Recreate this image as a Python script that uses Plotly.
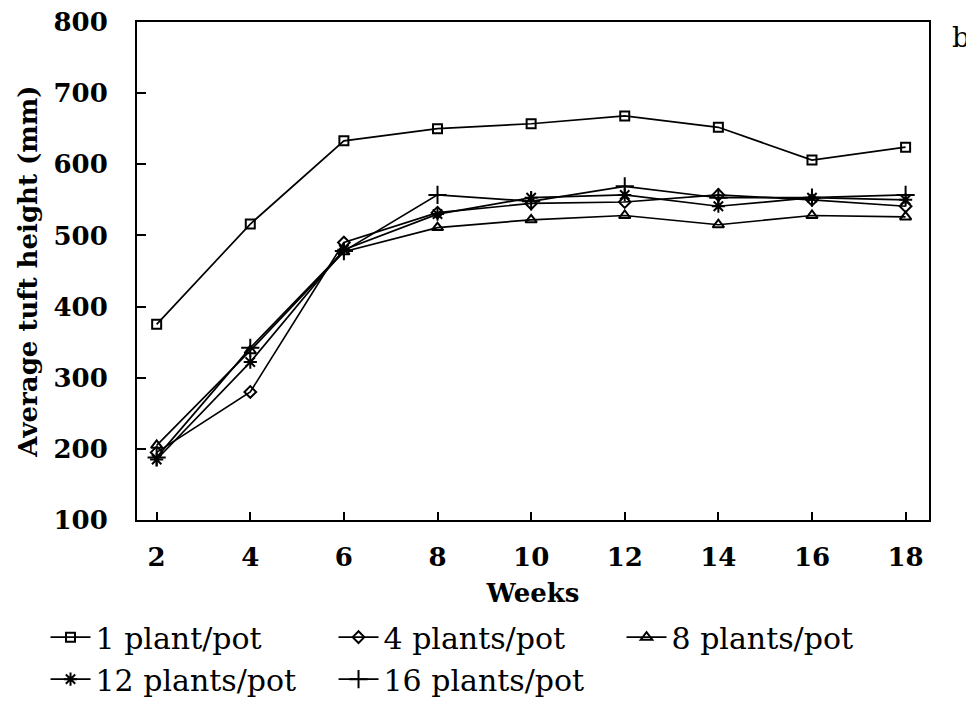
import plotly.graph_objects as go

weeks = [2, 4, 6, 8, 10, 12, 14, 16, 18]
plant1 = [375, 516, 633, 650, 657, 668, 652, 606, 624]
plants4 = [195, 280, 490, 532, 545, 547, 557, 550, 541]
plants8 = [205, 338, 477, 511, 522, 528, 515, 528, 526]
plants12 = [185, 322, 480, 530, 553, 557, 541, 553, 550]
plants16 = [188, 342, 478, 557, 548, 569, 553, 553, 557]

series_names = ["1 plant/pot", "4 plants/pot", "8 plants/pot",
                "12 plants/pot", "16 plants/pot"]
series_values = [plant1, plants4, plants8, plants12, plants16]
symbols = ["square-open", "diamond-open", "triangle-up-open",
           "asterisk-open", "cross-thin-open"]
sizes = [9, 9, 10, 11, 13]

y_ticks = [100, 200, 300, 400, 500, 600, 700, 800]
x_ticks = [2, 4, 6, 8, 10, 12, 14, 16, 18]

FONT = "DejaVu Serif"

fig = go.Figure()
for name, vals, sym, sz in zip(series_names, series_values, symbols, sizes):
    fig.add_trace(go.Scatter(
        x=weeks, y=vals, name=name, mode="lines+markers",
        line=dict(color="black", width=1.7),
        marker=dict(symbol=sym, size=sz, color="black",
                    line=dict(color="black", width=2)),
    ))

fig.update_layout(
    width=966, height=693,
    margin=dict(l=129, r=45, t=14, b=181, autoexpand=False),
    paper_bgcolor="white", plot_bgcolor="white",
    font=dict(family=FONT, color="black"),
    showlegend=True,
    legend=dict(
        orientation="h", x=-0.1155, y=-0.183, xanchor="left", yanchor="top",
        font=dict(family=FONT, size=30, color="black"),
        entrywidth=233, entrywidthmode="pixels",
        itemwidth=40, tracegroupgap=0,
        bgcolor="rgba(0,0,0,0)",
    ),
    annotations=[dict(
        text="b", xref="paper", yref="paper", x=1.026, y=0.968,
        xanchor="left", yanchor="middle", showarrow=False,
        font=dict(family=FONT, size=28, color="black"),
    )],
)

fig.update_xaxes(
    range=[1.58, 18.5], tickmode="array", tickvals=x_ticks,
    ticktext=[str(v) for v in x_ticks],
    ticks="inside", ticklen=8, tickwidth=2, tickcolor="black",
    showline=True, linecolor="black", linewidth=2, mirror=True,
    showgrid=False, zeroline=False, ticklabeloverflow="allow",
    tickfont=dict(family=FONT, size=26, color="black", weight="bold"),
    ticklabelstandoff=13,
    title=dict(text="Weeks", standoff=13,
               font=dict(family=FONT, size=26, color="black", weight="bold")),
)
fig.update_yaxes(
    range=[100, 800], tickmode="array", tickvals=y_ticks,
    ticktext=[str(v) for v in y_ticks],
    ticks="inside", ticklen=9, tickwidth=2, tickcolor="black",
    showline=True, linecolor="black", linewidth=2, mirror=True,
    showgrid=False, zeroline=False, ticklabeloverflow="allow",
    tickfont=dict(family=FONT, size=26, color="black", weight="bold"),
    ticklabelstandoff=22,
    title=dict(text="Average tuft height (mm)", standoff=8,
               font=dict(family=FONT, size=26, color="black", weight="bold")),
)

fig.write_html("out.html")
